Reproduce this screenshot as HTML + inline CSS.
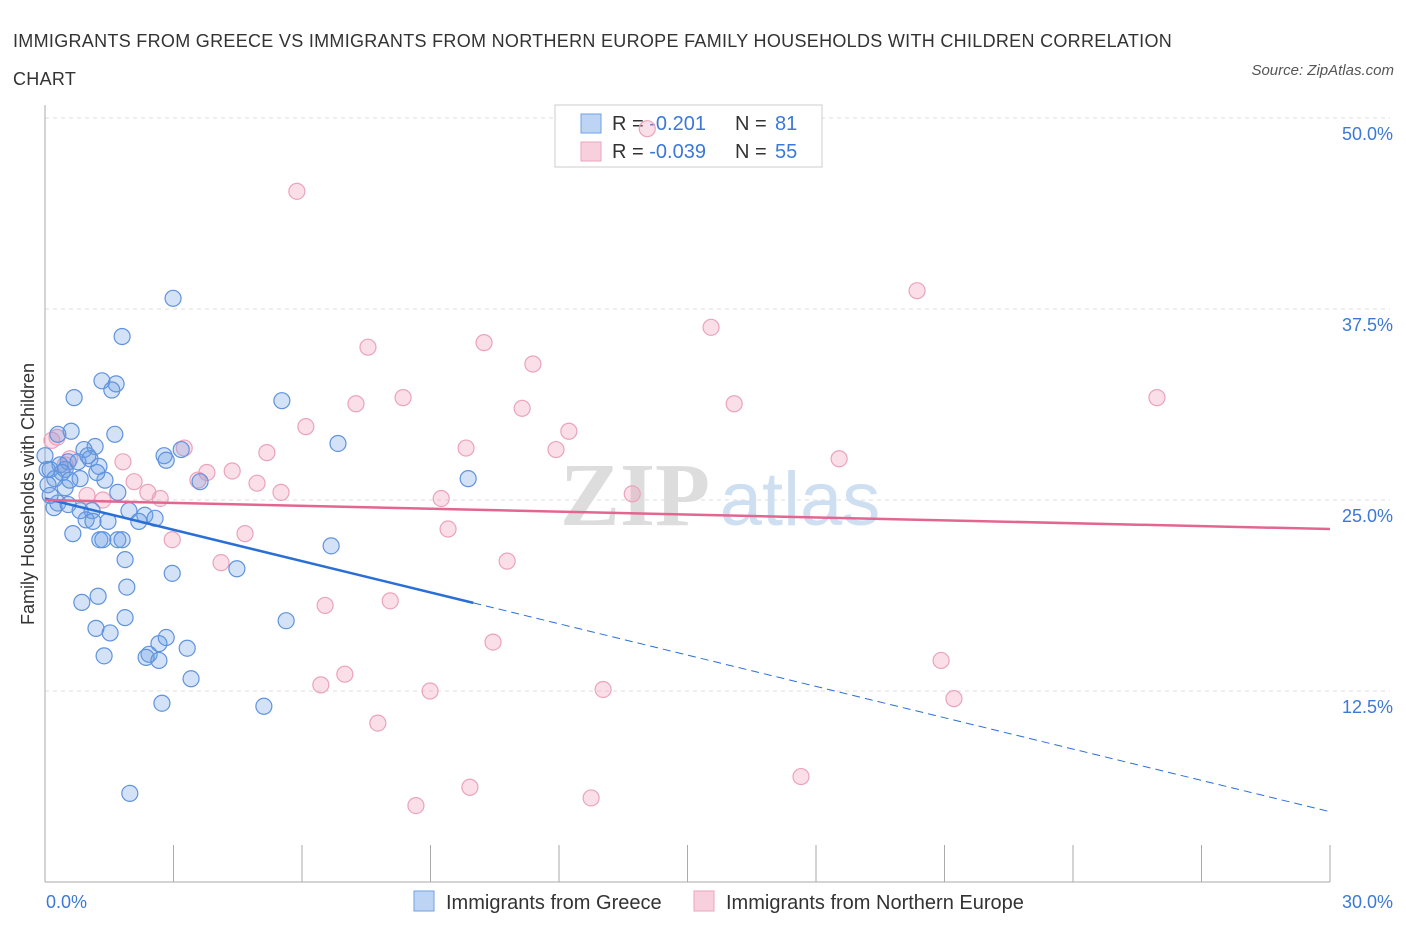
<!DOCTYPE html>
<html><head><meta charset="utf-8">
<style>
body{margin:0;background:#fff;font-family:"Liberation Sans",sans-serif;}
#wrap{position:relative;width:1406px;height:930px;overflow:hidden;}
.t{position:absolute;white-space:nowrap;}
</style></head>
<body><div id="wrap">
<div class="t" style="left:13px;top:22px;font-size:18px;letter-spacing:0.3px;color:#333;line-height:38px;">IMMIGRANTS FROM GREECE VS IMMIGRANTS FROM NORTHERN EUROPE FAMILY HOUSEHOLDS WITH CHILDREN CORRELATION<br>CHART</div>
<div class="t" style="right:12px;top:62px;font-size:15px;color:#555;font-style:italic;">Source: ZipAtlas.com</div>
<svg id="chart" width="1406" height="930" style="position:absolute;left:0;top:0"></svg>
</div>
<script>
const blueX=[2.99,1.80,1.33,1.66,1.56,0.68,5.53,0.61,1.63,6.84,1.17,0.91,1.05,2.78,2.83,3.18,0.54,0.77,1.26,0.35,0.12,0.47,0.23,0.82,1.40,3.62,9.88,0.07,0.47,1.70,0.30,0.21,0.54,0.82,1.10,1.96,2.33,2.57,0.96,1.12,1.47,2.19,0.65,1.28,1.35,1.70,1.80,6.68,1.87,4.48,2.97,1.91,1.24,0.86,1.87,5.63,1.19,1.52,2.83,2.66,3.32,1.38,2.43,2.36,2.66,3.41,2.73,5.11,1.98,0.0,0.05,0.40,0.58,0.12,1.00,1.21,0.30];
const blueY=[38.2,35.7,32.8,32.6,32.2,31.7,31.5,29.5,29.3,28.7,28.5,28.3,27.7,27.9,27.6,28.3,27.5,27.5,27.2,27.3,27.0,27.0,26.4,26.4,26.3,26.2,26.4,26.0,25.8,25.5,24.8,24.5,24.7,24.3,24.3,24.3,24.0,23.8,23.7,23.6,23.6,23.6,22.8,22.4,22.4,22.4,22.4,22.0,21.1,20.5,20.2,19.3,18.7,18.3,17.3,17.1,16.6,16.3,16.0,15.6,15.3,14.8,14.9,14.7,14.5,13.3,11.7,11.5,5.8,27.9,27.0,26.8,26.3,25.3,27.9,26.8,29.3];
const pinkX=[5.88,14.06,20.36,15.55,7.54,10.25,11.39,25.96,8.36,7.26,16.09,11.14,6.09,12.23,3.25,9.83,5.18,11.93,18.54,1.82,3.78,4.37,3.57,2.08,4.95,5.51,2.40,2.69,0.98,1.35,9.25,13.71,0.16,0.28,0.58,0.47,4.67,2.97,9.41,4.11,10.79,6.54,8.06,10.46,20.92,7.00,6.44,8.99,13.03,21.22,7.77,17.65,9.92,12.75,8.66];
const pinkY=[45.2,49.3,38.7,36.3,35.0,35.3,33.9,31.7,31.7,31.3,31.3,31.0,29.8,29.5,28.4,28.4,28.1,28.3,27.7,27.5,26.8,26.9,26.3,26.2,26.1,25.5,25.5,25.1,25.3,25.0,25.1,25.4,28.9,29.1,27.7,27.3,22.8,22.4,23.1,20.9,21.0,18.1,18.4,15.7,14.5,13.6,12.9,12.5,12.6,12.0,10.4,6.9,6.2,5.5,5.0];
const yTicks=[12.5,25,37.5,50];
const xTickLabels=["0.0%","30.0%"];
const blueTrend=[25.1,4.6];
const pinkTrend=[25.0,23.1];
const blueSolidEnd=10.0;

const NS="http://www.w3.org/2000/svg";
const svg=document.getElementById('chart');
const L=45,R=1330,B=882,T=118;
const xs=v=>L+v/30*(R-L);
const ys=v=>B-v/50*(B-T);
function el(tag,a){const e=document.createElementNS(NS,tag);for(const k in a)e.setAttribute(k,a[k]);svg.appendChild(e);return e;}
yTicks.forEach(v=>{
 const g=el('line',{x1:L,x2:R+60,y1:ys(v),y2:ys(v),stroke:'#ddd','stroke-dasharray':'4,4'});
 
 
 const t=el('text',{x:1393,y:ys(v)+22,'text-anchor':'end','font-size':18,fill:'#3b78d8','font-family':'Liberation Sans'});
 t.textContent=v.toFixed(1)+'%';
 
 
});
const ax=el('line',{x1:L,x2:L,y1:105,y2:B,stroke:'#aaa'});


const bx=el('line',{x1:L,x2:R,y1:B,y2:B,stroke:'#aaa'});


for(let i=0;i<=10;i++){
 const tk=el('line',{x1:xs(i*3),x2:xs(i*3),y1:845,y2:B,stroke:'#aaa'});
 
 
}
[[0,'start',46],[30,'end',1393]].forEach((d,i)=>{
 const t=el('text',{x:d[2],y:908,'text-anchor':d[1],'font-size':18,fill:'#3b78d8','font-family':'Liberation Sans'});
 t.textContent=xTickLabels[i];
 
 
});
const yt=el('text',{x:34,y:494,'text-anchor':'middle','font-size':18,fill:'#333',transform:'rotate(-90 34 494)','font-family':'Liberation Sans'});
yt.textContent='Family Households with Children';


const w1=el('text',{x:635,y:525,'font-size':90,fill:'#ddd','font-family':'Liberation Serif','font-weight':'bold','text-anchor':'middle'});
w1.textContent='ZIP';


const w2=el('text',{x:800,y:525,'font-size':76,fill:'#cfdff2','font-family':'Liberation Sans','text-anchor':'middle'});
w2.textContent='atlas';


// legend box (drawn before points so points appear above it)
const lb=el('rect',{x:555,y:105,width:267,height:62,fill:'#fff',stroke:'#ccc'});


[['#6fa2e6','rgba(110,160,230,0.45)','-0.201','81',123],['#eba3bd','rgba(240,150,180,0.45)','-0.039','55',151]].forEach(d=>{
 const s=el('rect',{x:581,y:d[4]-9,width:20,height:19,fill:d[1],stroke:d[0]});
 
 
 const t=el('text',{x:612,y:d[4]+7,'font-size':20,fill:'#333','font-family':'Liberation Sans'});
 t.innerHTML='R = <tspan fill="#3b78d8">'+d[2]+'</tspan><tspan x="735">N = </tspan><tspan fill="#3b78d8" x="775">'+d[3]+'</tspan>';
 
 
});
pinkX.forEach((x,i)=>{
 const c=el('circle',{cx:xs(x),cy:ys(pinkY[i]),r:8,fill:'rgba(240,150,180,0.3)',stroke:'#eba3bd','stroke-width':1.2});
 
 
});
blueX.forEach((x,i)=>{
 const c=el('circle',{cx:xs(x),cy:ys(blueY[i]),r:8,fill:'rgba(110,160,230,0.3)',stroke:'#5f93dd','stroke-width':1.2});
 
 
});
const by=x=>blueTrend[0]+(blueTrend[1]-blueTrend[0])*x/30;
const l1=el('line',{x1:xs(0),y1:ys(by(0)),x2:xs(blueSolidEnd),y2:ys(by(blueSolidEnd)),stroke:'#2a6fd6','stroke-width':2.5});


const l2=el('line',{x1:xs(blueSolidEnd),y1:ys(by(blueSolidEnd)),x2:xs(30),y2:ys(by(30)),stroke:'#2a6fd6','stroke-width':1,'stroke-dasharray':'8,5'});


const l3=el('line',{x1:xs(0),y1:ys(pinkTrend[0]),x2:xs(30),y2:ys(pinkTrend[1]),stroke:'#e36690','stroke-width':2.5});


// bottom legend
[[414,'rgba(110,160,230,0.45)','#6fa2e6','Immigrants from Greece','legend-greece'],[694,'rgba(240,150,180,0.45)','#eba3bd','Immigrants from Northern Europe','legend-northern-europe']].forEach(d=>{
 const s=el('rect',{x:d[0],y:891,width:20,height:20,fill:d[1],stroke:d[2]});
 
 
 const t=el('text',{x:d[0]+32,y:909,'font-size':20,fill:'#333','font-family':'Liberation Sans'});
 t.textContent=d[3];
 
 
});
</script>
</body></html>
